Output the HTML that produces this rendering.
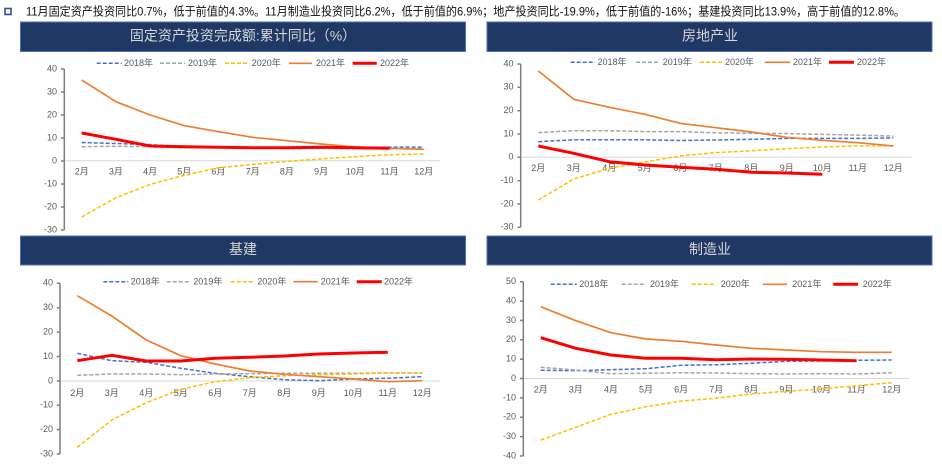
<!DOCTYPE html>
<html><head><meta charset="utf-8"><style>
html,body{margin:0;padding:0;background:#fff;}
svg{display:block;}
text{font-family:"Liberation Sans","Noto Sans CJK SC",sans-serif;}
.ax{stroke:#7f7f7f;stroke-width:1.5;fill:none;}
.x0{stroke:#d9d9d9;stroke-width:1;}
.yl{font-size:9px;fill:#595959;text-anchor:end;dominant-baseline:middle;}
.xl{font-size:9px;fill:#595959;text-anchor:middle;dominant-baseline:middle;}
.lg{font-size:9px;fill:#595959;dominant-baseline:middle;}
.s18{stroke:#4472c4;stroke-width:1.5;stroke-dasharray:4,2;fill:none;}
.s19{stroke:#a5a5a5;stroke-width:1.5;stroke-dasharray:4,2;fill:none;}
.s20{stroke:#ffc000;stroke-width:1.5;stroke-dasharray:4,2;fill:none;}
.s21{stroke:#ed7d31;stroke-width:1.7;fill:none;stroke-linejoin:round;}
.s22{stroke:#ff0000;stroke-width:3;fill:none;stroke-linejoin:round;}
.hd{fill:#1f3864;stroke:#4a72b8;stroke-width:1;}
.ht{font-family:"Liberation Sans","Noto Sans CJK SC",sans-serif;font-size:14px;fill:#d6d6d6;text-anchor:middle;dominant-baseline:middle;}
</style></head><body>
<svg width="942" height="468" viewBox="0 0 942 468" xmlns="http://www.w3.org/2000/svg">
<rect x="5" y="8.5" width="6" height="6" fill="#fff" stroke="#2f5597" stroke-width="1.6"/>
<text x="26" y="15.5" font-size="12" fill="#111" textLength="879" lengthAdjust="spacingAndGlyphs">11月固定资产投资同比0.7%，低于前值的4.3%。11月制造业投资同比6.2%，低于前值的6.9%；地产投资同比-19.9%，低于前值的-16%；基建投资同比13.9%，高于前值的12.8%。</text>

<!-- headers -->
<rect class="hd" x="20.5" y="22" width="445" height="29.5"/>
<text class="ht" x="243" y="37">固定资产投资完成额:累计同比（%）</text>
<rect class="hd" x="487" y="22" width="445" height="29.5"/>
<text class="ht" x="710" y="37">房地产业</text>
<rect class="hd" x="20.5" y="236" width="445" height="29"/>
<text class="ht" x="243" y="250.5">基建</text>
<rect class="hd" x="487" y="236" width="445" height="29"/>
<text class="ht" x="710" y="250.5">制造业</text>

<!-- ============ TL ============ -->
<line class="x0" x1="64" y1="160.7" x2="440" y2="160.7"/>
<path class="ax" d="M64.3 69V230M61 69H64.3M61 92H64.3M61 115H64.3M61 138H64.3M61 161H64.3M61 184H64.3M61 207H64.3M61 230H64.3"/>
<text class="yl" x="57" y="69">40</text><text class="yl" x="57" y="92">30</text><text class="yl" x="57" y="115">20</text><text class="yl" x="57" y="138">10</text><text class="yl" x="57" y="161">0</text><text class="yl" x="57" y="184">-10</text><text class="yl" x="57" y="207">-20</text><text class="yl" x="57" y="230">-30</text>
<text class="xl" x="81.7" y="172">2月</text><text class="xl" x="115.9" y="172">3月</text><text class="xl" x="150.1" y="172">4月</text><text class="xl" x="184.3" y="172">5月</text><text class="xl" x="218.5" y="172">6月</text><text class="xl" x="252.7" y="172">7月</text><text class="xl" x="286.9" y="172">8月</text><text class="xl" x="321.1" y="172">9月</text><text class="xl" x="355.3" y="172">10月</text><text class="xl" x="389.5" y="172">11月</text><text class="xl" x="423.7" y="172">12月</text>
<polyline class="s18" points="81.7,142.5 115.9,143.5 150.1,144.6 184.3,146.7 218.5,146.9 252.7,148 286.9,148.5 321.1,148.3 355.3,147.6 389.5,147.1 423.7,147.1"/>
<polyline class="s19" points="81.7,146.7 115.9,146.2 150.1,146.7 184.3,147.8 218.5,147.4 252.7,147.6 286.9,148.1 321.1,148.3 355.3,148.7 389.5,148.7 423.7,148.3"/>
<polyline class="s20" points="81.7,217.1 115.9,197.7 150.1,184.4 184.3,175.2 218.5,167.8 252.7,164.4 286.9,161.4 321.1,158.9 355.3,156.6 389.5,154.7 423.7,154"/>
<polyline class="s21" points="81.7,80 115.9,101.7 150.1,115 184.3,125.7 218.5,131.7 252.7,137.3 286.9,140.7 321.1,144 355.3,147 389.5,148.3 423.7,149.3"/>
<polyline class="s22" points="81.7,133 115.9,139.3 150.1,146 184.3,146.7 218.5,147.3 252.7,147.7 286.9,147.7 321.1,147.3 355.3,147.7 389.5,148.3"/>
<line class="s18" x1="96.7" y1="63.3" x2="121.7" y2="63.3"/><text class="lg" x="124" y="63.5">2018年</text>
<line class="s19" x1="160" y1="63.3" x2="185" y2="63.3"/><text class="lg" x="188" y="63.5">2019年</text>
<line class="s20" x1="225" y1="63.3" x2="248" y2="63.3"/><text class="lg" x="251.7" y="63.5">2020年</text>
<line class="s21" x1="289" y1="63.3" x2="312" y2="63.3"/><text class="lg" x="316" y="63.5">2021年</text>
<line class="s22" x1="352.7" y1="63.3" x2="376.7" y2="63.3"/><text class="lg" x="380" y="63.5">2022年</text>

<!-- ============ TR ============ -->
<line class="x0" x1="521" y1="157.3" x2="911.5" y2="157.3"/>
<path class="ax" d="M520.7 64V227.3M517.5 64H520.7M517.5 87.3H520.7M517.5 110.7H520.7M517.5 134H520.7M517.5 157.3H520.7M517.5 180.7H520.7M517.5 204H520.7M517.5 227.3H520.7"/>
<text class="yl" x="513.5" y="64">40</text><text class="yl" x="513.5" y="87.3">30</text><text class="yl" x="513.5" y="110.7">20</text><text class="yl" x="513.5" y="134">10</text><text class="yl" x="513.5" y="157.3">0</text><text class="yl" x="513.5" y="180.7">-10</text><text class="yl" x="513.5" y="204">-20</text><text class="yl" x="513.5" y="227.3">-30</text>
<text class="xl" x="538.3" y="168.5">2月</text><text class="xl" x="573.8" y="168.5">3月</text><text class="xl" x="609.3" y="168.5">4月</text><text class="xl" x="644.8" y="168.5">5月</text><text class="xl" x="680.3" y="168.5">6月</text><text class="xl" x="715.8" y="168.5">7月</text><text class="xl" x="751.3" y="168.5">8月</text><text class="xl" x="786.8" y="168.5">9月</text><text class="xl" x="822.3" y="168.5">10月</text><text class="xl" x="857.8" y="168.5">11月</text><text class="xl" x="893.3" y="168.5">12月</text>
<polyline class="s18" points="538.3,141.7 573.8,139.8 609.3,139.8 644.8,139.8 680.3,140.5 715.8,140 751.3,139.3 786.8,138.4 822.3,138.4 857.8,138.4 893.3,137.9"/>
<polyline class="s19" points="538.3,132.6 573.8,130.7 609.3,130.7 644.8,131.6 680.3,131.6 715.8,132.8 751.3,133.3 786.8,133.5 822.3,134.4 857.8,135.1 893.3,136.1"/>
<polyline class="s20" points="538.3,200 573.8,179 609.3,168.3 644.8,162 680.3,155.9 715.8,152.6 751.3,150.8 786.8,148.7 822.3,147 857.8,145.9 893.3,145.9"/>
<polyline class="s21" points="538.3,71 573.8,99.3 609.3,107.3 644.8,114.3 680.3,123.3 715.8,127.7 751.3,132 786.8,137.3 822.3,140.3 857.8,142.7 893.3,146"/>
<polyline class="s22" points="538.3,146 573.8,153.3 609.3,161.7 644.8,165 680.3,167.3 715.8,169.3 751.3,172.3 786.8,173 822.3,174.3"/>
<line class="s18" x1="570.7" y1="62.3" x2="595" y2="62.3"/><text class="lg" x="597.5" y="62.5">2018年</text>
<line class="s19" x1="636" y1="62.3" x2="660" y2="62.3"/><text class="lg" x="662.7" y="62.5">2019年</text>
<line class="s20" x1="700" y1="62.3" x2="722" y2="62.3"/><text class="lg" x="725" y="62.5">2020年</text>
<line class="s21" x1="765" y1="62.3" x2="790" y2="62.3"/><text class="lg" x="793" y="62.5">2021年</text>
<line class="s22" x1="829" y1="62.3" x2="854" y2="62.3"/><text class="lg" x="857" y="62.5">2022年</text>

<!-- ============ BL ============ -->
<line class="x0" x1="60" y1="381" x2="440.5" y2="381"/>
<path class="ax" d="M60 283.3V454M56.8 283.3H60M56.8 307.7H60M56.8 332.1H60M56.8 356.5H60M56.8 380.9H60M56.8 405.2H60M56.8 429.6H60M56.8 454H60"/>
<text class="yl" x="53" y="283.3">40</text><text class="yl" x="53" y="307.7">30</text><text class="yl" x="53" y="332.1">20</text><text class="yl" x="53" y="356.5">10</text><text class="yl" x="53" y="380.9">0</text><text class="yl" x="53" y="405.2">-10</text><text class="yl" x="53" y="429.6">-20</text><text class="yl" x="53" y="454">-30</text>
<text class="xl" x="77.3" y="393.5">2月</text><text class="xl" x="111.8" y="393.5">3月</text><text class="xl" x="146.3" y="393.5">4月</text><text class="xl" x="180.8" y="393.5">5月</text><text class="xl" x="215.3" y="393.5">6月</text><text class="xl" x="249.8" y="393.5">7月</text><text class="xl" x="284.3" y="393.5">8月</text><text class="xl" x="318.8" y="393.5">9月</text><text class="xl" x="353.3" y="393.5">10月</text><text class="xl" x="387.8" y="393.5">11月</text><text class="xl" x="422.3" y="393.5">12月</text>
<polyline class="s18" points="77.3,353.3 111.8,360.7 146.3,362.3 180.8,368.3 215.3,373.3 249.8,376.7 284.3,379.7 318.8,380.7 353.3,379 387.8,378.3 422.3,376.7"/>
<polyline class="s19" points="77.3,375.3 111.8,374 146.3,374 180.8,374.7 215.3,374 249.8,373.7 284.3,373.3 318.8,373.3 353.3,373.3 387.8,373 422.3,373"/>
<polyline class="s20" points="77.3,447.3 111.8,420 146.3,402.7 180.8,389.3 215.3,381.7 249.8,377.7 284.3,375.7 318.8,374.7 353.3,374 387.8,372.7 422.3,372.7"/>
<polyline class="s21" points="77.3,295.7 111.8,316 146.3,340 180.8,355.7 215.3,364 249.8,371 284.3,374.3 318.8,376.7 353.3,379 387.8,381.7 422.3,380.7"/>
<polyline class="s22" points="77.3,360.7 111.8,355.3 146.3,361 180.8,361 215.3,358.3 249.8,357.3 284.3,356 318.8,354 353.3,353 387.8,352.3"/>
<line class="s18" x1="103.3" y1="281.7" x2="128.3" y2="281.7"/><text class="lg" x="130.7" y="282">2018年</text>
<line class="s19" x1="166.7" y1="281.7" x2="191" y2="281.7"/><text class="lg" x="193.3" y="282">2019年</text>
<line class="s20" x1="230.7" y1="281.7" x2="254" y2="281.7"/><text class="lg" x="257.3" y="282">2020年</text>
<line class="s21" x1="293.3" y1="281.7" x2="317.7" y2="281.7"/><text class="lg" x="320.7" y="282">2021年</text>
<line class="s22" x1="356.7" y1="281.7" x2="381.7" y2="281.7"/><text class="lg" x="384" y="282">2022年</text>

<!-- ============ BR ============ -->
<line class="x0" x1="523.3" y1="378.5" x2="909" y2="378.5"/>
<path class="ax" d="M523.3 281.7V456M520 281.7H523.3M520 301.1H523.3M520 320.4H523.3M520 339.8H523.3M520 359.2H523.3M520 378.5H523.3M520 397.9H523.3M520 417.3H523.3M520 436.6H523.3M520 456H523.3"/>
<text class="yl" x="516" y="281.7">50</text><text class="yl" x="516" y="301.1">40</text><text class="yl" x="516" y="320.4">30</text><text class="yl" x="516" y="339.8">20</text><text class="yl" x="516" y="359.2">10</text><text class="yl" x="516" y="378.5">0</text><text class="yl" x="516" y="397.9">-10</text><text class="yl" x="516" y="417.3">-20</text><text class="yl" x="516" y="436.6">-30</text><text class="yl" x="516" y="456">-40</text>
<text class="xl" x="540.7" y="390">2月</text><text class="xl" x="575.8" y="390">3月</text><text class="xl" x="610.9" y="390">4月</text><text class="xl" x="646" y="390">5月</text><text class="xl" x="681.1" y="390">6月</text><text class="xl" x="716.2" y="390">7月</text><text class="xl" x="751.3" y="390">8月</text><text class="xl" x="786.4" y="390">9月</text><text class="xl" x="821.5" y="390">10月</text><text class="xl" x="856.6" y="390">11月</text><text class="xl" x="891.7" y="390">12月</text>
<polyline class="s18" points="540.7,370.3 575.8,370.7 610.9,369.7 646,368.7 681.1,365.3 716.2,364.7 751.3,363.3 786.4,361.3 821.5,361 856.6,360.3 891.7,360"/>
<polyline class="s19" points="540.7,367.3 575.8,370 610.9,373.7 646,373.3 681.1,372.7 716.2,373 751.3,373.7 786.4,374 821.5,373.7 856.6,374 891.7,372.7"/>
<polyline class="s20" points="540.7,440 575.8,427.3 610.9,414.3 646,406.7 681.1,401 716.2,398.3 751.3,394 786.4,391.3 821.5,389 856.6,385.7 891.7,382.7"/>
<polyline class="s21" points="540.7,306.7 575.8,320.7 610.9,332.7 646,339 681.1,341.3 716.2,345 751.3,348.3 786.4,350 821.5,351.7 856.6,352.3 891.7,352.3"/>
<polyline class="s22" points="540.7,337.7 575.8,348.3 610.9,355 646,358.3 681.1,358.3 716.2,359.7 751.3,359 786.4,359.3 821.5,360 856.6,360.7"/>
<line class="s18" x1="550.7" y1="284.3" x2="576.7" y2="284.3"/><text class="lg" x="579.3" y="284.5">2018年</text>
<line class="s19" x1="621.7" y1="284.3" x2="646" y2="284.3"/><text class="lg" x="650" y="284.5">2019年</text>
<line class="s20" x1="691.7" y1="284.3" x2="716" y2="284.3"/><text class="lg" x="720.7" y="284.5">2020年</text>
<line class="s21" x1="762.7" y1="284.3" x2="787" y2="284.3"/><text class="lg" x="792.3" y="284.5">2021年</text>
<line class="s22" x1="833.3" y1="284.3" x2="858" y2="284.3"/><text class="lg" x="862.7" y="284.5">2022年</text>

<text x="20" y="477.5" font-size="11" fill="#d0d0d0">资料来源：国家统计局，研究所整理</text>
</svg>
</body></html>
